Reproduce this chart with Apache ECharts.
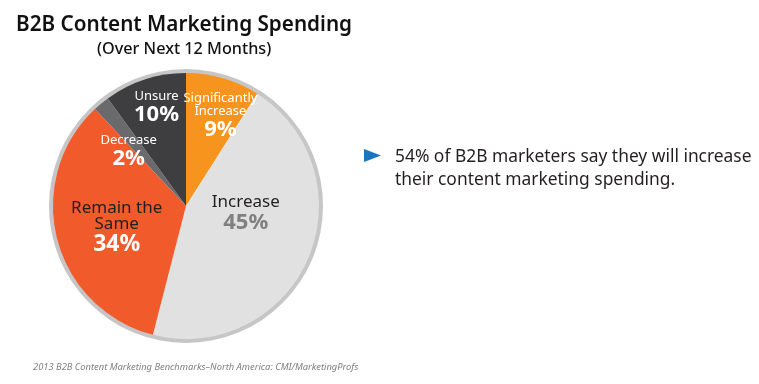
<!DOCTYPE html>
<html>
<head>
<meta charset="utf-8">
<script src="https://cdn.jsdelivr.net/npm/echarts@6/dist/echarts.min.js"></script>
<style>html,body{margin:0;padding:0;background:#fff}#c{width:759px;height:384px}</style>
</head>
<body>
<div id="c"></div>
<script>
var categories = ['Significantly Increase', 'Increase', 'Remain the Same', 'Decrease', 'Unsure'];
var values = [9, 45, 34, 2, 10];
var labelNames = ['Significantly\nIncrease', 'Increase', 'Remain the\nSame', 'Decrease', 'Unsure'];
var titleText = 'B2B Content Marketing Spending';
var subtitleText = '(Over Next 12 Months)';
var noteLines = ['54% of B2B marketers say they will increase', 'their content marketing spending.'];
var sourceText = '2013 B2B Content Marketing Benchmarks\u2013North America: CMI/MarketingProfs';

var FONT = "'Noto Sans', sans-serif";
var colors = ['#F7941D', '#E1E1E2', '#F15A2B', '#6A6A6C', '#3E3E40'];
var labelStyle = [
  {offset: [15, -23], nameColor: '#ffffff', nameSize: 13, pctColor: '#ffffff', pctSize: 22, nameLH: 13},
  {offset: [-4, -20], nameColor: '#231f20', nameSize: 17, pctColor: '#808080', pctSize: 22, nameLH: 18},
  {offset: [-2, 5], nameColor: '#231f20', nameSize: 17, pctColor: '#ffffff', pctSize: 23, nameLH: 16},
  {offset: [-13, -1], nameColor: '#ffffff', nameSize: 13, pctColor: '#ffffff', pctSize: 22, nameLH: 14},
  {offset: [-8, -32], nameColor: '#ffffff', nameSize: 13, pctColor: '#ffffff', pctSize: 22, nameLH: 14}
];

var pieData = categories.map(function (c, i) {
  var s = labelStyle[i];
  return {
    name: c,
    value: values[i],
    itemStyle: {color: colors[i]},
    label: {
      offset: s.offset,
      formatter: '{n|' + labelNames[i].split('\n').join('}\n{n|') + '}\n{p|' + values[i] + '%}',
      rich: {
        n: {color: s.nameColor, fontSize: s.nameSize, fontFamily: FONT, lineHeight: s.nameLH, align: 'center'},
        p: {color: s.pctColor, fontSize: s.pctSize, fontWeight: 'bold', fontFamily: FONT, lineHeight: s.pctSize + 1, align: 'center'}
      }
    }
  };
});

var chart = echarts.init(document.getElementById('c'), null, {renderer: 'canvas'});
chart.setOption({
  animation: false,
  title: [
    {text: titleText, left: 11, top: 10, textStyle: {fontFamily: FONT, fontSize: 20.7, fontWeight: 600, color: '#111111'}},
    {text: subtitleText, left: 92, top: 36, textStyle: {fontFamily: FONT, fontSize: 16.2, fontWeight: 500, color: '#111111'}},
    {text: sourceText, left: 28, top: 358, textStyle: {fontFamily: FONT, fontSize: 9.35, fontStyle: 'italic', fontWeight: 'normal', color: '#808080'}}
  ],
  series: [
    {
      type: 'pie', silent: true, center: [186, 206], radius: [132, 137],
      label: {show: false}, labelLine: {show: false},
      itemStyle: {color: '#c6c6c6'},
      data: [{value: 1, name: 'ring'}]
    },
    {
      type: 'pie', center: [186, 206], radius: [0, 133], startAngle: 90, clockwise: true,
      avoidLabelOverlap: false,
      label: {show: true, position: 'inside'},
      labelLine: {show: false},
      itemStyle: {borderWidth: 0},
      data: pieData
    }
  ],
  graphic: [
    {type: 'polygon', shape: {points: [[364, 149], [381, 155.5], [364, 162]]}, style: {fill: '#1B75BC'}},
    {type: 'text', left: 395, top: 146, style: {text: noteLines.join('\n'), font: '17.4px ' + FONT, fill: '#231f20', lineHeight: 23}}
  ]
});
</script>
</body>
</html>
